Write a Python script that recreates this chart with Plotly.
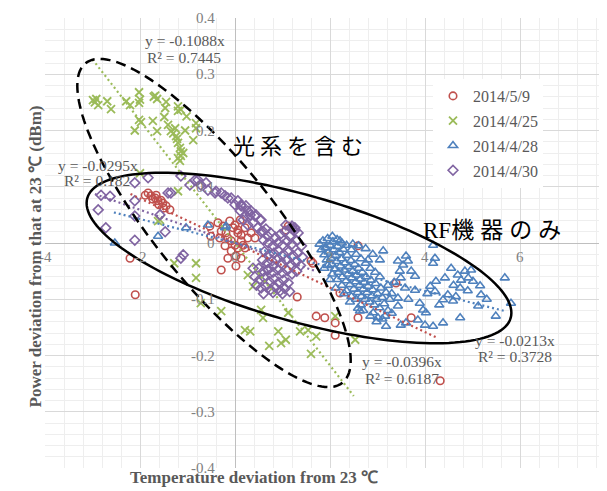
import math
import plotly.graph_objects as go

# ---------------- data ----------------
series_names = ["2014/5/9", "2014/4/25", "2014/4/28", "2014/4/30"]

red_x = [-1.89, -1.83, -1.77, -1.68, -1.62, -1.56, -1.52, -1.45, -1.37, -1.73, -1.60, -1.50, -1.66,
         -2.21, -2.10,
         -0.36, -0.25, -0.11, 0.00, 0.06, 0.13, -0.15, -0.08, 0.00, -0.21, 0.06, 0.13, 0.21, 0.27, 0.34,
         -0.08, 0.02, 0.13, -0.15, -0.51, -0.53, -0.32, -0.29, 0.11, 0.21, 0.42, 0.02, -0.29, 0.17,
         0.06, -0.19, -0.04, 1.07, 1.12, 1.64,
         2.59, 3.39, 2.21, 2.59, 3.71, 1.60, 1.71, 1.89, 2.11, 2.11, 1.31, 4.32]
red_y = [0.085, 0.089, 0.084, 0.080, 0.075, 0.076, 0.071, 0.066, 0.059, 0.078, 0.068, 0.062, 0.085,
         -0.027, -0.092,
         0.036, 0.030, 0.039, 0.032, 0.023, 0.014, 0.009, 0.004, -0.004, -0.005, -0.009, 0.004, -0.009, 0.009, 0.018,
         -0.014, -0.023, -0.027, -0.027, 0.012, 0.030, 0.009, 0.021, 0.041, 0.027, 0.009, -0.041, -0.048, -0.004,
         0.018, 0.018, 0.027, 0.023, 0.030, -0.036,
         -0.005, -0.071, -0.089, -0.133, -0.133, -0.032, -0.130, -0.133, -0.142, -0.164, -0.096, -0.245]

green_x = [-2.99, -2.95, -2.88, -2.92, -2.69, -2.61, -2.29, -2.21, -2.02, -2.00, -2.02, -1.71, -1.64, -1.68,
           -1.45, -1.47, -1.20, -1.14, -1.20, -2.02, -1.98, -1.73, -2.11, -1.64, -1.49, -1.41, -1.35, -1.26,
           -1.05, -0.82, -0.82, -0.88, -1.24, -1.20, -1.16, -1.14, -1.14, -1.09, -1.20, -1.16, -1.22, -1.30, -1.02,
           -2.00, -1.20, -1.58, -1.62,
           -1.28, -0.82, -0.82, -0.72, -0.29, 0.21, 0.32, 0.27, 0.38, 0.55, 0.59, 0.72, 0.91, 0.97, 1.07,
           1.12, 1.37, 1.54, 1.71, 1.60, 2.11, 2.53]
green_y = [0.254, 0.250, 0.245, 0.256, 0.252, 0.238, 0.252, 0.245, 0.268, 0.255, 0.249, 0.260, 0.256, 0.262,
           0.251, 0.240, 0.243, 0.237, 0.235, 0.219, 0.215, 0.217, 0.200, 0.199, 0.224, 0.210, 0.199, 0.204,
           0.200, 0.213, 0.204, 0.183, 0.190, 0.178, 0.169, 0.163, 0.155, 0.160, 0.151, 0.146, 0.185, 0.195, 0.225,
           0.124, 0.092, 0.041, 0.039,
           -0.036, -0.036, -0.062, -0.107, -0.121, -0.155, -0.157, -0.057, -0.077, -0.119, -0.133, -0.183, -0.157,
           -0.178, -0.172, -0.124, -0.157, -0.155, -0.166, -0.197, -0.130, -0.172]

blue_x = [-2.53, -1.62, -1.03, -0.57, -0.21, -0.19,
          2.21, 1.92, 2.48, 3.12, 2.80, 3.60, 3.64, 4.21, 3.54, 3.47, 3.71, 3.49, 3.22, 3.58, 3.79, 4.11, 4.21,
          4.23, 4.42, 4.48, 4.38, 4.59, 4.69, 4.76, 4.84, 4.91, 4.97, 5.01, 4.74, 5.18, 5.12, 5.16, 5.68, 5.81,
          5.49, 4.74, 4.38, 4.17, 4.00, 3.85, 3.96, 4.02, 3.60, 3.49, 3.18, 3.43, 3.43, 3.16, 3.01, 2.91, 2.63,
          2.59, 3.79, 3.89, 3.05, 3.43, 4.17, 4.17, 4.05, 4.30, 4.60, 4.90, 3.30, 3.65, 4.55, 5.30, 4.65,
          1.78, 1.82, 1.85, 1.88, 1.90, 1.93, 1.95, 1.97, 2.00, 2.02, 2.04, 2.06, 2.08, 2.10, 2.12, 2.14, 2.16,
          2.18, 2.20, 2.22, 2.24, 2.26, 2.28, 2.30, 2.32, 2.34, 2.36, 2.38, 2.40, 2.42, 2.44, 2.46, 2.48, 2.50,
          2.52, 2.54, 2.56, 2.58, 2.60, 2.62, 2.64, 2.66, 2.68, 2.70, 2.72, 2.74, 2.76, 2.78, 2.80, 2.83, 2.86,
          2.88, 2.90, 2.93, 2.96, 2.98, 3.00, 3.04, 3.07, 3.10, 3.14, 3.18, 3.22, 3.26,
          1.95, 2.05, 2.15, 2.25, 2.35, 2.45, 2.55, 2.65, 2.05, 2.15, 2.25, 2.35, 2.45, 2.55, 2.65, 2.75, 2.85,
          2.95, 3.05, 1.88, 2.00, 2.12, 2.30, 2.42, 2.70, 2.85, 2.98, 3.10, 3.30, 3.35, 2.90, 2.60, 2.75]
blue_y = [0.000, 0.012, 0.027, 0.032, 0.027, 0.030,
          0.004, -0.009, -0.002, -0.014, -0.030, -0.023, -0.032, -0.027, -0.039, -0.050, -0.050, -0.062, -0.075,
          -0.080, -0.084, -0.077, -0.086, -0.068, -0.062, -0.092, -0.101, -0.103, -0.057, -0.066, -0.050, -0.062,
          -0.048, -0.068, -0.080, -0.092, -0.112, -0.076, -0.062, -0.107, -0.130, -0.133, -0.142, -0.148, -0.146,
          -0.137, -0.119, -0.124, -0.142, -0.146, -0.148, -0.112, -0.098, -0.130, -0.133, -0.124, -0.121, -0.116,
          -0.059, -0.107, -0.030, -0.032, -0.004, -0.036, -0.090, -0.110, -0.075, -0.085, -0.090, -0.100, -0.045,
          -0.100, -0.095,
          -0.002, -0.012, 0.004, -0.021, -0.008, -0.030, 0.008, -0.016, -0.004, -0.027, -0.038, 0.002, -0.012,
          -0.046, -0.022, -0.033, -0.006, -0.052, -0.017, -0.041, -0.028, -0.060, -0.011, -0.048, -0.035, -0.067,
          -0.022, -0.055, -0.042, -0.074, -0.031, -0.062, -0.050, -0.082, -0.038, -0.069, -0.057, -0.088, -0.045,
          -0.075, -0.064, -0.095, -0.052, -0.082, -0.070, -0.100, -0.060, -0.088, -0.077, -0.105, -0.066, -0.094,
          -0.083, -0.110, -0.072, -0.100, -0.090, -0.115, -0.080, -0.097, -0.108, -0.088, -0.120, -0.100,
          -0.040, -0.055, -0.065, -0.075, -0.085, -0.095, -0.100, -0.110, 0.012, 0.006, 0.000, -0.004, -0.012,
          -0.020, -0.028, -0.036, -0.045, -0.052, -0.060, -0.045, -0.065, -0.080, -0.090, -0.105, -0.120, -0.130,
          -0.140, -0.135, -0.125, -0.070, -0.020, -0.005, -0.010]

purple_x = [-2.63, -2.88, -2.72, -2.11, -2.11, -2.11, -2.11, -1.41, -1.58, -1.47, -1.14, -1.14, -0.95, -0.84,
            -1.83, -2.82, -1.35, -1.09,
            -0.57, -0.42, -0.29, -0.15, 0.00, 0.13, 0.27, 0.42, 0.55, 0.17, -0.72, -0.78, -0.61, -0.40, -0.21,
            -0.08, 0.06, 0.13, 0.23, 0.34, 0.32, 0.44, 0.53, 0.21, 0.38, 0.48, 0.59, 0.69, 0.11, 0.27,
            0.55, 0.65, 0.75, 0.85, 0.95, 1.05, 1.15, 1.25, 1.33, 1.20, 1.26, 0.60, 0.70, 0.80, 0.90, 1.00, 1.10,
            1.20, 1.30, 1.40, 0.62, 0.72, 0.82, 0.92, 1.02, 1.12, 1.22, 1.32, 1.42, 0.58, 0.68, 0.78, 0.88, 0.98,
            1.08, 1.18, 1.28, 1.38, 0.50, 0.60, 0.70, 0.80, 0.90, 1.00, 1.10, 1.20, 1.30, 0.42, 0.52, 0.62, 0.72,
            0.82, 0.92, 1.02, 1.12, 0.45, 0.55, 0.65, 0.75, 0.85, 0.95, 1.05, 1.15, 0.60, 0.80, 1.00, 0.69, 0.80,
            0.38, 1.07, 1.18]
purple_y = [0.083, 0.059, 0.027, 0.107, 0.075, 0.048, 0.005, 0.089, 0.050, 0.020, 0.119, -0.027, 0.103, 0.112,
            0.116, 0.085, 0.089, -0.021,
            0.094, 0.089, 0.089, 0.080, 0.068, 0.068, 0.057, 0.048, 0.041, 0.041, 0.103, 0.112, 0.107, 0.092, 0.084,
            0.080, 0.075, 0.066, 0.066, 0.057, 0.050, 0.050, 0.041, 0.048, 0.036, 0.027, 0.021, 0.012, 0.057, 0.032,
            0.020, 0.025, 0.018, 0.010, 0.015, 0.020, 0.012, 0.022, 0.018, 0.030, 0.027, 0.005, 0.000, -0.005, 0.000,
            -0.004, 0.003, -0.002, 0.004, -0.005, -0.015, -0.020, -0.018, -0.014, -0.020, -0.016, -0.022, -0.018,
            -0.025, -0.030, -0.035, -0.032, -0.030, -0.036, -0.031, -0.038, -0.034, -0.040, -0.045, -0.050, -0.047,
            -0.052, -0.048, -0.053, -0.049, -0.055, -0.050, -0.060, -0.065, -0.062, -0.068, -0.064, -0.070, -0.066,
            -0.071, -0.075, -0.080, -0.077, -0.083, -0.079, -0.085, -0.081, -0.086, -0.090, -0.088, -0.090, -0.048,
            -0.041, -0.045, 0.032, 0.027]

# linear trendlines y = k x (intercept 0) and their drawn x-extent
trend_slopes = [-0.0396, -0.1088, -0.0213, -0.0295]
trend_r2 = [0.6187, 0.7445, 0.3728, 0.182]
trend_xmin = [-2.2, -3.0, -2.55, -2.95]
trend_xmax = [4.25, 2.5, 5.7, 1.7]

x_ticks = [-4, -2, 0, 2, 4, 6, 8]
y_ticks = [0.4, 0.3, 0.2, 0.1, 0, -0.1, -0.2, -0.3, -0.4]

# ---------------- styles ----------------
colors = ["#C0504D", "#9BBB59", "#4F81BD", "#8064A2"]
symbols = ["circle-open", "x-thin-open", "triangle-up-open", "diamond-open"]
sizes = [7.5, 8, 8, 7.5]
xs_all = [red_x, green_x, blue_x, purple_x]
ys_all = [red_y, green_y, blue_y, purple_y]

W, H = 607, 491
ML, MR, MT, MB = 37, 0, 10, 31
XR = (-4, 8)
YR = (-0.4, 0.4)
PW, PH = W - ML - MR, H - MT - MB


def px2data(px, py):
    x = XR[0] + (px - ML) / PW * (XR[1] - XR[0])
    y = YR[1] - (py - MT) / PH * (YR[1] - YR[0])
    return x, y


def ellipse_path(cx, cy, a, b, ang, n=160):
    th = math.radians(ang)
    pts = []
    for i in range(n + 1):
        t = 2 * math.pi * i / n
        px = cx + a * math.cos(t) * math.cos(th) - b * math.sin(t) * math.sin(th)
        py = cy + a * math.cos(t) * math.sin(th) + b * math.sin(t) * math.cos(th)
        pts.append(px2data(px, py))
    return "M " + " L ".join(f"{x:.4f},{y:.5f}" for x, y in pts) + " Z"


fig = go.Figure()

for i in range(4):
    lw = 1.8 if i == 1 else 1.6
    fig.add_trace(go.Scatter(
        x=xs_all[i], y=ys_all[i], mode="markers", name=series_names[i],
        marker=dict(symbol=symbols[i], size=sizes[i], color=colors[i],
                    line=dict(color=colors[i], width=lw)),
        legendgroup=series_names[i]))

for i in range(4):
    x0, x1 = trend_xmin[i], trend_xmax[i]
    fig.add_trace(go.Scatter(
        x=[x0, x1], y=[trend_slopes[i] * x0, trend_slopes[i] * x1], mode="lines",
        line=dict(color=colors[i], width=2.2, dash="2px,3px"),
        showlegend=False, hoverinfo="skip"))

serif = "Liberation Serif, Times New Roman, serif"
annos = []
for t in x_ticks:
    annos.append(dict(x=t, y=0, xref="x", yref="y", text=str(t), showarrow=False,
                      yanchor="top", yshift=-4, font=dict(family=serif, size=15, color="#808080")))
for t in y_ticks:
    lab = "0" if t == 0 else f"{t:.1f}"
    annos.append(dict(x=0, y=t, xref="x", yref="y", text=lab, showarrow=False,
                      xanchor="right", xshift=-18, font=dict(family=serif, size=15, color="#808080")))

# trendline equation labels (pixel centres -> data)
eq_pos = [((394, 353), (394, 370)), ((177, 32), (176, 49)), ((507, 332), (507, 348)), ((90, 157), (89, 172))]
for i in range(4):
    (ex, ey), (rx, ry) = eq_pos[i]
    dx, dy = px2data(ex, ey)
    annos.append(dict(x=dx, y=dy, text=f"y = {trend_slopes[i]}x", showarrow=False,
                      font=dict(family=serif, size=15.5, color="#595959")))
    dx, dy = px2data(rx, ry)
    annos.append(dict(x=dx, y=dy, text=f"R² = {trend_r2[i]}", showarrow=False,
                      font=dict(family=serif, size=15.5, color="#595959")))

jx, jy = px2data(292, 136)
annos.append(dict(x=jx, y=jy, text='<span style="letter-spacing:5px">光系を含む</span>', showarrow=False,
                  font=dict(family="Noto Sans CJK JP", size=22, color="#000000")))
jx, jy = px2data(487, 222)
annos.append(dict(x=jx, y=jy, text='RF<span style="letter-spacing:6px">機器のみ</span>', showarrow=False,
                  font=dict(family="Liberation Serif, Noto Sans CJK JP", size=23, color="#000000")))

# axis titles
annos.append(dict(x=(246 - ML) / PW, y=-(481 - (H - MB)) / PH, xref="paper", yref="paper",
                  text="<b>Temperature deviation from 23 ℃</b>", showarrow=False,
                  font=dict(family=serif, size=17, color="#595959")))
annos.append(dict(x=(15 - ML) / PW, y=((H - MB) - 249) / PH, xref="paper", yref="paper",
                  text="<b>Power deviation from that at 23 ℃ (dBm)</b>", showarrow=False, textangle=-90,
                  font=dict(family=serif, size=17, color="#595959")))

shapes = [
    dict(type="path", path=ellipse_path(206, 215, 205, 60, 51.2), xref="x", yref="y",
         line=dict(color="black", width=2.5, dash="10px,6px")),
    dict(type="path", path=ellipse_path(291, 250, 220, 63, 15.8), xref="x", yref="y",
         line=dict(color="black", width=2.5)),
]

fig.update_layout(
    width=W, height=H, margin=dict(l=ML, r=MR, t=MT, b=MB, pad=0),
    paper_bgcolor="white", plot_bgcolor="white",
    font=dict(family=serif, color="#595959"),
    xaxis=dict(range=list(XR), dtick=2, tick0=0, showticklabels=False, ticks="",
               showgrid=True, gridcolor="#d9d9d9", gridwidth=1,
               zeroline=True, zerolinecolor="#bfbfbf", zerolinewidth=1, showline=False,
               minor=dict(dtick=0.4, tick0=0, showgrid=True, gridcolor="#eeeeee", gridwidth=1)),
    yaxis=dict(range=list(YR), dtick=0.1, tick0=0, showticklabels=False, ticks="",
               showgrid=True, gridcolor="#d9d9d9", gridwidth=1,
               zeroline=True, zerolinecolor="#bfbfbf", zerolinewidth=1, showline=False,
               minor=dict(dtick=0.02, tick0=0, showgrid=True, gridcolor="#eeeeee", gridwidth=1)),
    legend=dict(x=(425 - ML) / PW, y=((H - MB) - 71) / PH, xanchor="left", yanchor="top",
                bgcolor="white", font=dict(family=serif, size=16, color="#595959"),
                tracegroupgap=1, itemwidth=30),
    annotations=annos, shapes=shapes, showlegend=True,
)

fig.write_html("out.html")
